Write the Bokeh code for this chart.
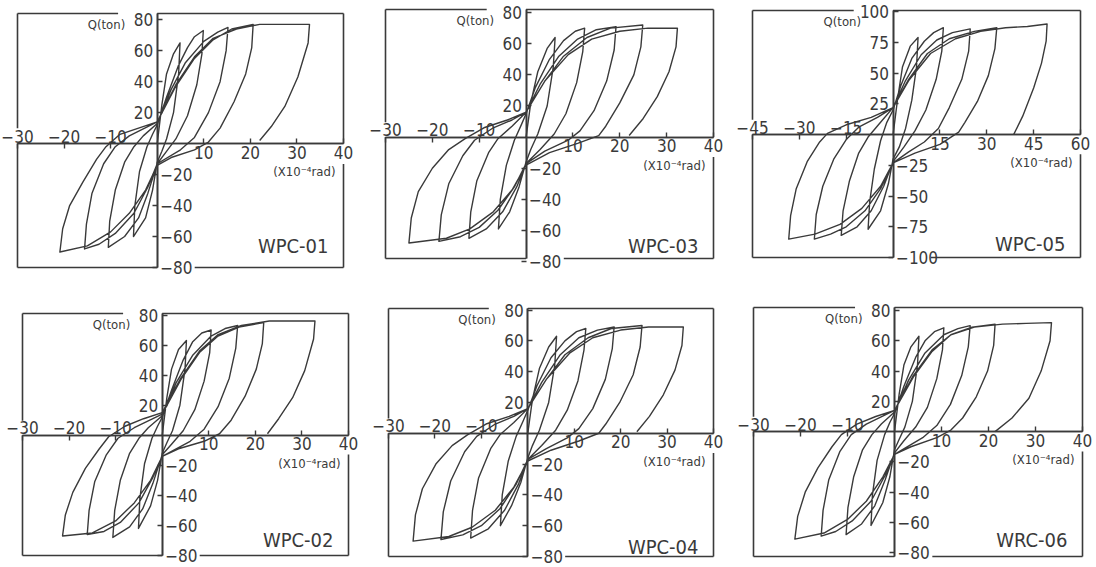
from bokeh.plotting import figure
from bokeh.models import LinearAxis, FixedTicker, Label, Range1d
from bokeh.layouts import column, row
from bokeh.embed import file_html
from bokeh.resources import INLINE

FONT = "'DejaVu Sans Condensed', 'Liberation Sans', sans-serif"
INK = "#3a3a3a"

# ---- data: (rotation x10^-4 rad, Q ton) load paths ----
WPC01 = [
    (0, 0), (1, 25), (2, 45), (3.5, 58), (4.9, 65), (4.6, 45), (3.5, 20), (2, 3), (1, -5), (0, -12),
    (-1, -30), (-2.5, -48), (-5.1, -60), (-4.8, -40), (-3.8, -18), (-2.2, -2), (-1, 6), (0, 12),
    (2, 30), (4.5, 50), (6.5, 62), (8, 69), (9.9, 73), (9.6, 58), (8.5, 38), (6.5, 18), (4, 3), (2, -5), (0, -13),
    (-2, -32), (-4, -48), (-7, -60), (-10.5, -67), (-10.2, -50), (-9, -30), (-7, -12), (-5, -2), (-3, 5), (0, 13),
    (3, 35), (6, 52), (10, 66), (13, 72), (15.2, 75), (14.8, 60), (13.5, 40), (11, 20), (8, 4), (5, -4), (0, -13),
    (-2, -28), (-5, -45), (-9, -58), (-12.5, -65), (-15.6, -68), (-15.2, -52), (-14, -32), (-11.5, -13), (-9, -2), (-6, 5), (0, 14),
    (4, 37), (8, 55), (12, 67), (16, 74), (20.6, 77), (20.3, 62), (19, 45), (16.5, 27), (13.5, 10), (11, 1), (8, -4), (3, -9), (0, -14),
    (-2.5, -30), (-6, -45), (-10, -57), (-15, -66), (-20.9, -70), (-20.3, -55), (-18.8, -40), (-16, -25), (-13, -10), (-11, -2), (-8, 6), (-4, 10), (0, 14),
    (4, 38), (8, 56), (12, 68), (17, 74), (22, 77), (28, 77), (32.7, 77), (32.4, 65), (30.2, 43), (27.4, 24), (24.5, 11), (22, 2),
]
WPC03 = [
    (0, 0), (1, 22), (2.5, 42), (4.5, 57), (6.2, 64), (5.8, 45), (4.5, 20), (2.5, 2), (1, -8), (0, -16),
    (-1.5, -32), (-3.5, -48), (-5.9, -59), (-5.5, -40), (-4.2, -18), (-2.5, -2), (-1, 8), (0, 15),
    (2, 32), (5, 50), (8, 62), (10.5, 68), (12.5, 70), (12.1, 55), (10.8, 35), (8.5, 15), (6, 2), (3, -8), (0, -17),
    (-2, -32), (-5, -48), (-8.5, -59), (-12.2, -65), (-11.8, -48), (-10.5, -28), (-8, -10), (-6, -1), (-3, 7), (0, 16),
    (3, 34), (7, 52), (11, 63), (15, 69), (19.2, 71), (18.8, 56), (17.2, 36), (14.5, 17), (11.5, 4), (9, -2), (4, -9), (0, -17),
    (-2.5, -32), (-6, -47), (-10, -58), (-14, -64), (-18.6, -67), (-18.1, -50), (-16.5, -30), (-13.5, -12), (-11, -2), (-7, 6), (-3, 11), (0, 16),
    (4, 36), (8, 52), (13, 64), (18, 70), (24.9, 72), (24.5, 58), (23, 40), (20, 22), (17, 7), (15.5, 1), (11, -4), (5, -10), (0, -18),
    (-3, -34), (-7, -48), (-12, -59), (-17, -65), (-25, -68), (-24.5, -52), (-23, -35), (-20, -20), (-16.5, -8), (-13, -1), (-9, 6), (-4, 11), (0, 16),
    (4, 36), (9, 53), (14, 63), (20, 68), (26, 70), (32.3, 70), (32, 58), (30.5, 42), (28, 26), (25, 12), (22, 1),
]
WPC05 = [
    (0, 0), (1.5, 30), (3, 55), (5.5, 72), (8, 79), (7.5, 55), (6, 28), (4, 5), (2, -10), (0, -20),
    (-1.5, -40), (-4, -62), (-8, -77), (-7.5, -55), (-6, -28), (-4, -5), (-2, 10), (0, 20),
    (2.5, 40), (6, 62), (10, 76), (13, 83), (16.1, 87), (15.6, 68), (13.8, 45), (10.5, 20), (7, 3), (3.5, -10), (0, -22),
    (-3, -42), (-7, -62), (-11.5, -75), (-16.6, -82), (-16, -62), (-14, -38), (-11, -15), (-8, -2), (-4, 10), (0, 22),
    (4, 44), (9, 65), (14, 77), (19, 83), (24.7, 86), (24.2, 68), (22, 45), (18, 22), (14.5, 5), (10, -6), (5, -14), (0, -23),
    (-4, -44), (-9, -62), (-15, -75), (-20, -81), (-25.2, -85), (-24.6, -65), (-22.5, -42), (-19, -20), (-15, -4), (-11, 6), (-5, 14), (0, 22),
    (5, 45), (11, 66), (18, 78), (26, 84), (33.2, 87), (32.6, 70), (30.5, 48), (27, 27), (23, 10), (21, 2), (15, -8), (7, -15), (0, -23),
    (-4, -42), (-10, -60), (-17, -73), (-25, -81), (-33.4, -85), (-32.8, -66), (-31, -44), (-27.5, -22), (-23.5, -6), (-21, 1), (-15, 8), (-7, 14), (0, 22),
    (5, 44), (12, 66), (20, 78), (28, 84), (36, 87), (43, 88), (49.3, 90), (49, 76), (47.5, 58), (45, 38), (41.5, 15), (38.6, 0),
]
WPC02 = [
    (0, 0), (1, 25), (2, 44), (3.5, 57), (5.2, 63), (4.9, 44), (3.8, 20), (2.2, 3), (1, -5), (0, -12),
    (-1, -30), (-2.5, -47), (-5.1, -62), (-4.8, -42), (-3.8, -19), (-2.2, -2), (-1, 6), (0, 12),
    (2, 30), (4.5, 50), (6.5, 62), (8.5, 68), (10.5, 70), (10.2, 55), (9, 36), (7, 17), (4.5, 3), (2, -6), (0, -13),
    (-2, -32), (-4.2, -49), (-7, -61), (-10.6, -68), (-10.2, -50), (-9, -30), (-7, -12), (-5, -2), (-3, 5), (0, 13),
    (3, 35), (6.5, 53), (10.5, 66), (13.5, 71), (16.2, 73), (15.8, 58), (14.4, 38), (12, 19), (9, 4), (6, -4), (0, -14),
    (-2, -28), (-5, -45), (-9, -58), (-12.5, -64), (-16.1, -66), (-15.7, -50), (-14.5, -31), (-12, -13), (-9.5, -2), (-6, 5), (0, 14),
    (4, 37), (8, 55), (12, 66), (16.5, 72), (21.8, 75), (21.5, 61), (20.2, 44), (17.8, 26), (14.8, 10), (12.3, 1), (9, -4), (3.5, -9), (0, -14),
    (-2.5, -30), (-6, -45), (-10, -57), (-15, -65), (-21.4, -67), (-20.8, -53), (-19.2, -38), (-16.5, -22), (-13.5, -9), (-11.5, -1), (-8, 6), (-4, 11), (0, 15),
    (4, 38), (8, 56), (12, 67), (17, 73), (23, 76), (28, 76), (32.8, 76), (32.5, 64), (30.6, 43), (28, 25), (25, 11), (22.6, 1),
]
WPC04 = [
    (0, 0), (1, 22), (2.5, 42), (4.5, 56), (6.2, 63), (5.8, 44), (4.5, 20), (2.5, 2), (1, -8), (0, -16),
    (-1.5, -32), (-3.5, -47), (-5.9, -60), (-5.5, -40), (-4.2, -18), (-2.5, -2), (-1, 8), (0, 15),
    (2, 31), (5, 49), (8, 60), (10.5, 66), (12.5, 68), (12.1, 54), (10.8, 34), (8.5, 15), (6, 2), (3, -8), (0, -17),
    (-2, -33), (-5, -50), (-8.5, -62), (-12.3, -68), (-11.9, -50), (-10.6, -29), (-8, -10), (-6, -1), (-3, 7), (0, 16),
    (3, 33), (7, 51), (11, 62), (15, 67), (18.6, 69), (18.2, 55), (16.7, 35), (14, 16), (11, 3), (8.5, -3), (4, -10), (0, -17),
    (-2.5, -33), (-6, -49), (-10, -60), (-14, -66), (-18.7, -69), (-18.2, -51), (-16.6, -31), (-13.6, -12), (-11, -2), (-7, 6), (-3, 11), (0, 16),
    (4, 35), (8, 51), (13, 62), (18, 68), (24.6, 70), (24.2, 56), (22.7, 38), (19.8, 20), (16.8, 6), (15.3, 0), (11, -5), (5, -11), (0, -18),
    (-3, -35), (-7, -50), (-12, -61), (-17, -67), (-24.7, -70), (-24.2, -53), (-22.7, -36), (-19.8, -20), (-16.3, -8), (-13, -1), (-9, 6), (-4, 11), (0, 16),
    (4, 35), (9, 52), (14, 62), (20, 67), (26, 69), (33.5, 69), (33.2, 57), (31.7, 41), (29.2, 25), (26.2, 11), (23.5, 1),
]
WRC06 = [
    (0, 0), (1, 25), (2, 44), (3.5, 56), (5.2, 63), (4.9, 44), (3.8, 20), (2.2, 3), (1, -5), (0, -12),
    (-1, -30), (-2.5, -47), (-5, -62), (-4.7, -42), (-3.7, -19), (-2.1, -2), (-1, 6), (0, 12),
    (2, 30), (4.5, 49), (6.5, 60), (8.5, 66), (10.5, 68.6), (10.2, 54), (9, 35), (7, 16), (4.5, 3), (2, -6), (0, -14),
    (-2, -32), (-4.2, -49), (-7, -61), (-10.3, -68), (-9.9, -50), (-8.7, -30), (-6.8, -12), (-4.8, -2), (-2.8, 5), (0, 13),
    (3, 34), (6.5, 52), (10.5, 64), (13.5, 68), (16.1, 70), (15.7, 56), (14.3, 37), (11.9, 18), (9, 4), (6, -4), (0, -15),
    (-2, -29), (-5, -46), (-9, -59), (-12.5, -66), (-15.6, -69), (-15.2, -52), (-14, -32), (-11.6, -13), (-9.2, -2), (-6, 5), (0, 14),
    (4, 36), (8, 53), (12, 64), (16.5, 69), (21.4, 71), (21.1, 57), (19.8, 40), (17.4, 23), (14.5, 9), (12, 1), (9, -4), (3.5, -10), (0, -15),
    (-2.5, -30), (-6, -46), (-10, -58), (-15, -67), (-21.2, -71), (-20.6, -56), (-19, -40), (-16.3, -24), (-13.3, -10), (-11.3, -2), (-8, 5), (-4, 10), (0, 14),
    (4, 37), (8, 54), (12, 64), (17, 69), (23, 71), (28, 71.5), (33.4, 72), (33.1, 60), (31.2, 40), (28.6, 22), (25, 9), (21.4, 0),
]

NAMES = ["WPC-01", "WPC-03", "WPC-05", "WPC-02", "WPC-04", "WRC-06"]
PATHS = [WPC01, WPC03, WPC05, WPC02, WPC04, WRC06]

X_NEG_TICKS = [-30, -20, -10]
X_POS_TICKS = [10, 20, 30, 40]
Y_POS_TICKS = [20, 40, 60, 80]
Y_NEG_TICKS = [-20, -40, -60, -80]
X_NEG_TICKS_05 = [-45, -30, -15]
X_POS_TICKS_05 = [15, 30, 45, 60]
Y_POS_TICKS_05 = [25, 50, 75, 100]
Y_NEG_TICKS_05 = [-25, -50, -75, -100]

Y_LABEL = "Q(ton)"
X_LABEL = "(X10\u207b\u2074rad)"

# ---- layout: box x, box y, fig W, fig H, box left, box top, box w, box h, name y offset ----
LAYOUT = [
    ((-30, 40), (-80, 84), 365, 296, 17, 13, 326, 254, 22),
    ((-30, 40), (-78, 82), 365, 296, 20, 9, 328, 249, 13),
    ((-45, 60), (-100, 101), 366, 296, 22, 10, 328, 247, 14),
    ((-30, 40), (-80, 81), 365, 271, 22, 17, 326, 242, 16),
    ((-30, 40), (-80, 81), 365, 271, 23, 12, 325, 248, 10),
    ((-30, 40), (-82.5, 82), 366, 271, 23, 11, 329, 249, 17),
]
TICKS = [
    (X_NEG_TICKS, X_POS_TICKS, Y_POS_TICKS, Y_NEG_TICKS),
    (X_NEG_TICKS, X_POS_TICKS, Y_POS_TICKS, Y_NEG_TICKS),
    (X_NEG_TICKS_05, X_POS_TICKS_05, Y_POS_TICKS_05, Y_NEG_TICKS_05),
    (X_NEG_TICKS, X_POS_TICKS, Y_POS_TICKS, Y_NEG_TICKS),
    (X_NEG_TICKS, X_POS_TICKS, Y_POS_TICKS, Y_NEG_TICKS),
    (X_NEG_TICKS, X_POS_TICKS, Y_POS_TICKS, Y_NEG_TICKS),
]


def make_axis(ticks, bounds, standoff):
    return LinearAxis(
        fixed_location=0,
        bounds=bounds,
        ticker=FixedTicker(ticks=ticks),
        axis_line_color=INK, axis_line_width=1.6,
        major_tick_line_color=INK, major_tick_line_width=1.4,
        major_tick_in=5, major_tick_out=0,
        minor_tick_line_color=None,
        major_label_text_font=FONT, major_label_text_font_size="17px",
        major_label_text_color=INK, major_label_standoff=standoff,
    )


def panel(name, path, lay, ticks):
    (bx, by, W, H, L, T, BW, BH, name_dy) = lay
    xneg, xpos, ypos, yneg = ticks
    xs = [pt[0] for pt in path]
    qs = [pt[1] for pt in path]
    x0, x1 = bx
    y0, y1 = by
    sx = BW / (x1 - x0)
    sy = BH / (y1 - y0)
    R = W - L - BW
    B = H - T - BH
    xr = Range1d(x0 - L / sx, x1 + R / sx)
    yr = Range1d(y0 - B / sy, y1 + T / sy)
    p = figure(frame_width=W, frame_height=H, x_range=xr, y_range=yr,
               x_axis_location=None, y_axis_location=None,
               toolbar_location=None, output_backend="svg",
               min_border=0, min_border_left=0, min_border_right=0,
               min_border_top=0, min_border_bottom=0)
    p.outline_line_color = None
    p.background_fill_color = "white"
    p.border_fill_color = "white"
    p.xgrid.visible = False
    p.ygrid.visible = False

    p.add_layout(make_axis(xpos, (x0, x1), 2), "below")
    p.add_layout(make_axis(xneg, (x0, x1), 1), "above")
    p.add_layout(make_axis(ypos, (y0, y1), 4), "left")
    p.add_layout(make_axis(yneg, (y0, y1), 3), "right")

    # box frame with gaps where the end labels sit
    xs_ = x1 - x0
    ys_ = y1 - y0
    p.segment(x0=[x0, 0, x0, 0.115 * xs_, x0, x0, x1, x1],
              y0=[y1, y1, y0, y0, y1, 0, y1, -0.08 * ys_],
              x1=[-0.12 * xs_, x1, 0, x1, x0, x0, x1, x1],
              y1=[y1, y1, y0, y0, 0.06 * ys_, y0, 0, y0],
              line_color=INK, line_width=1.6)

    p.line(xs, qs, line_color=INK, line_width=1.4, line_join="round")

    p.add_layout(Label(x=0, y=y1, x_offset=-32, y_offset=-11, text=Y_LABEL,
                       text_align="right", text_baseline="middle",
                       text_font=FONT, text_font_size="13px", text_color=INK))
    p.add_layout(Label(x=x1, y=0, x_offset=-8, y_offset=-28, text=X_LABEL,
                       text_align="right", text_baseline="middle",
                       text_font=FONT, text_font_size="13px", text_color=INK))
    p.add_layout(Label(x=x1, y=y0, x_offset=-15, y_offset=name_dy, text=name,
                       text_align="right", text_baseline="middle",
                       text_font=FONT, text_font_size="20px", text_color=INK))
    return p


plots = [panel(NAMES[i], PATHS[i], LAYOUT[i], TICKS[i]) for i in range(6)]
layout = column(row(*plots[:3]), row(*plots[3:]))
layout.spacing = 0

open("out.html", "w").write(file_html(layout, INLINE))
